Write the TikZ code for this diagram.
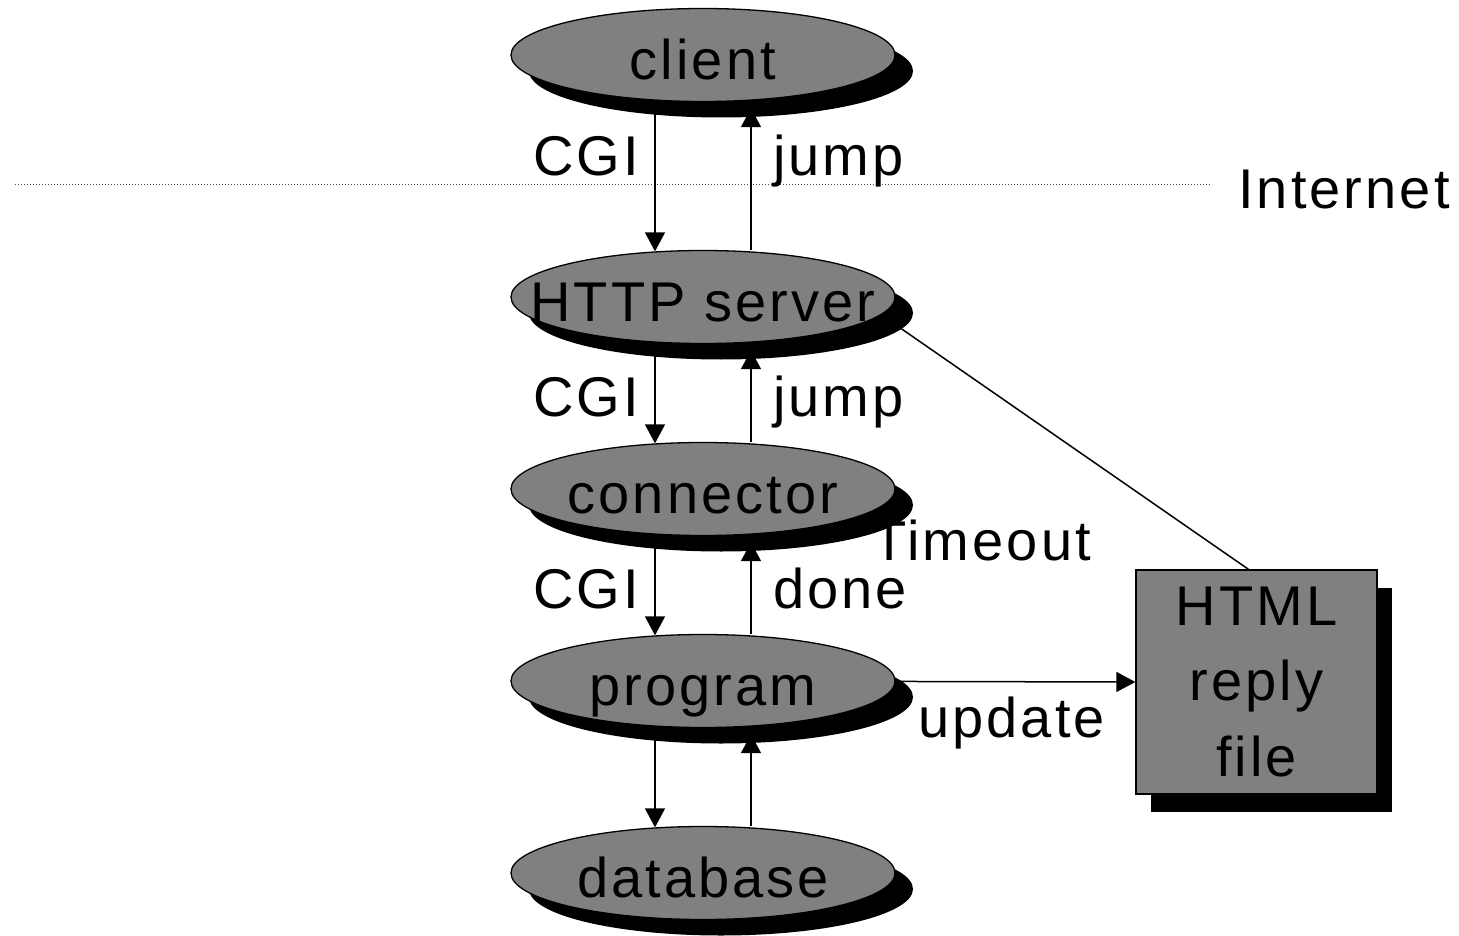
\documentclass[tikz,border=0pt]{standalone}
\usepackage{fontspec}
\setmainfont{Liberation Sans}[LetterSpace=5.5]
\usetikzlibrary{shapes.geometric,shadows,arrows.meta}
\pgfdeclarelayer{bg}
\pgfsetlayers{bg,main}
\newcommand\ztext[1]{\makebox[0pt]{#1}}
\begin{document}
\begin{tikzpicture}[x=1pt,y=-1pt,
  every node/.style={font=\fontsize{56}{75.5}\selectfont},
  proc/.style={ellipse,draw=black,line width=1.3pt,fill=gray,
    minimum width=384pt,minimum height=93pt,inner sep=0pt,
    text height=49pt,text depth=0pt,
    drop shadow={shadow xshift=18pt,shadow yshift=-16pt,fill=black,opacity=1}},
  filebox/.style={rectangle,draw=black,line width=1.3pt,fill=gray,
    minimum width=241pt,minimum height=224pt,inner sep=0pt,align=center,
    drop shadow={shadow xshift=15pt,shadow yshift=-18pt,fill=black,opacity=1}},
  lbl/.style={anchor=base west,inner sep=0pt},
  arr/.style={line width=1.5pt,-{Triangle[length=19pt,width=20pt]}},
  conn/.style={line width=1.5pt},
  netline/.style={line width=1pt,dash pattern=on 1pt off 2pt,black!70}]
\useasboundingbox (0,0) rectangle (1459,936);

\node[proc] (client) at (703,55) {\ztext{client}};
\node[proc] (http) at (703,297) {\ztext{HTTP server}};
\node[proc] (conn) at (703,489) {\ztext{connector}};
\node[proc] (prog) at (703,681) {\ztext{program}};
\node[proc] (db) at (703,873) {\ztext{database}};
\node[filebox] (html) at (1256.5,682) {HTML\\reply\\file};

\coordinate (netL) at (15,185);
\coordinate (netR) at (1210,185);
\node[lbl] (internet) at (1238,209) {Internet};

\node[lbl] (cgi1) at (533,176) {CGI};
\node[lbl] (jump1) at (773,176) {jump};
\node[lbl] (cgi2) at (533,416) {CGI};
\node[lbl] (jump2) at (773,416) {jump};
\node[lbl] (cgi3) at (533,608) {CGI};
\node[lbl] (done) at (773,608) {done};
\node[lbl] (timeout) at (872,560) {Timeout};
\node[lbl] (update) at (918,737) {update};

\begin{pgfonlayer}{bg}
\draw[netline] (netL) -- (netR);
\draw[arr] ([xshift=-48pt]client.south) -- ([xshift=-48pt,yshift=-1.5pt]http.north);
\draw[arr] ([xshift=48pt]http.north) -- ([xshift=48pt,yshift=-6pt]client.south);
\draw[arr] ([xshift=-48pt]http.south) -- ([xshift=-48pt,yshift=-1.5pt]conn.north);
\draw[arr] ([xshift=48pt]conn.north) -- ([xshift=48pt,yshift=-6pt]http.south);
\draw[arr] ([xshift=-48pt]conn.south) -- ([xshift=-48pt,yshift=-1.5pt]prog.north);
\draw[arr] ([xshift=48pt]prog.north) -- ([xshift=48pt,yshift=-6pt]conn.south);
\draw[arr] ([xshift=-48pt]prog.south) -- ([xshift=-48pt,yshift=-1.5pt]db.north);
\draw[arr] ([xshift=48pt]db.north) -- ([xshift=48pt,yshift=-6pt]prog.south);
\draw[arr] (prog.center) -- (html.west);
\draw[conn] ([xshift=167pt,yshift=-10pt]http.center) -- ([xshift=-8pt]html.north);
\end{pgfonlayer}
\end{tikzpicture}
\end{document}
